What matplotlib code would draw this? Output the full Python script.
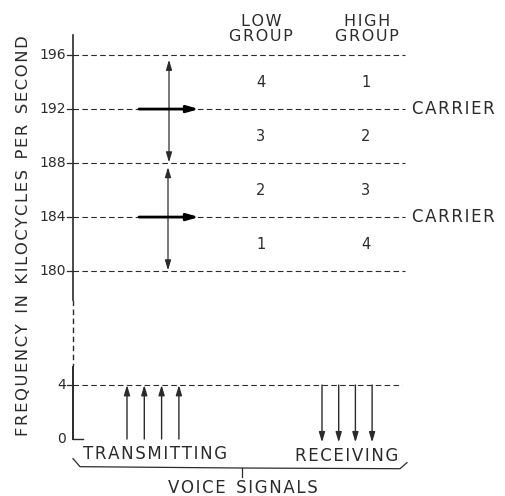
import matplotlib.pyplot as plt

# frequency levels (kc) of the carrier group band
band_edges = [180, 188, 196]
carriers = [184, 192]
band_ticks = [180, 184, 188, 192, 196]
voice_ticks = [0, 4]
voice_top = 4

# channel numbering between the levels, top to bottom
channel_centres = [194, 190, 186, 182]
low_group = ['4', '3', '2', '1']
high_group = ['1', '2', '3', '4']
voice_channels = [1, 2, 3, 4]

INK = '#2b2b2b'
plt.rcParams['font.family'] = ['DejaVu Sans']

# broken scale: the 180-196 band is shifted down next to 0-4
OFFSET = 167.56


def ypos(f):
    return f - OFFSET if f >= 100 else f


def spaced(s):
    # a little extra letter spacing, like the lettering of the original
    return ' '.join('\u200a'.join(w) for w in s.split(' '))


fig = plt.figure(figsize=(5.06, 4.96), dpi=100)
ax = fig.add_axes([0, 0, 1, 1])
ax.set_xlim(0, 506)
ax.set_ylim(-57 / 13.5, 439 / 13.5)
ax.axis('off')

dash = (0, (5, 3))
x_axis = 73

# vertical axis, with a dashed break between the two ranges
ax.plot([x_axis, x_axis], [ypos(197.5), 10.3], color=INK, lw=1.2)
ax.plot([x_axis, x_axis], [10.3, 5.4], color=INK, lw=1.0, ls=(0, (4, 2.5)))
ax.plot([x_axis, x_axis], [5.3, 0], color=INK, lw=1.4)
ax.plot([x_axis, x_axis + 10], [0, 0], color=INK, lw=1.0)

# horizontal dashed levels
for f in band_ticks:
    ax.plot([x_axis - 6, x_axis], [ypos(f), ypos(f)], color=INK, lw=0.9)
    ax.plot([x_axis, 405], [ypos(f), ypos(f)], color=INK, lw=0.8, ls=dash)
    ax.text(x_axis - 7, ypos(f), str(f), ha='right', va='center',
            fontsize=10, color=INK)
ax.plot([x_axis - 6, x_axis], [voice_top, voice_top], color=INK, lw=0.9)
ax.plot([x_axis, 402], [voice_top, voice_top], color=INK, lw=0.8, ls=dash)
for v in voice_ticks:
    ax.text(x_axis - 7, v, str(v), ha='right', va='center',
            fontsize=10, color=INK)

for c in carriers:
    ax.text(412, ypos(c), spaced('CARRIER'), ha='left', va='center',
            fontsize=12, color=INK)

# group headings and channel numbers
ax.text(261, 30.4, spaced('LOW') + '\n' + spaced('GROUP'), ha='center',
        va='center', fontsize=11.5, color=INK, linespacing=1.0)
ax.text(367, 30.4, spaced('HIGH') + '\n' + spaced('GROUP'), ha='center',
        va='center', fontsize=11.5, color=INK, linespacing=1.0)
for yc, lo, hi in zip(channel_centres, low_group, high_group):
    ax.text(261, ypos(yc), lo, ha='center', va='center', fontsize=10.5, color=INK)
    ax.text(366, ypos(yc), hi, ha='center', va='center', fontsize=10.5, color=INK)

# sidebands: double arrows across each band, carrier arrows
thin = dict(arrowstyle='<|-|>,head_length=0.6,head_width=0.18', color=INK,
            lw=0.9, shrinkA=0, shrinkB=0)
ax.annotate('', xy=(169, ypos(band_edges[2]) - 0.35),
            xytext=(169, ypos(band_edges[1]) + 0.05), arrowprops=thin)
ax.annotate('', xy=(168, ypos(band_edges[1]) - 0.3),
            xytext=(168, ypos(band_edges[0]) + 0.05), arrowprops=thin)
bold = dict(arrowstyle='-|>,head_length=0.7,head_width=0.2', color='black',
            lw=2.0, shrinkA=0, shrinkB=0)
for c in carriers:
    ax.annotate('', xy=(199, ypos(c)), xytext=(139, ypos(c)), arrowprops=bold)

# voice signals
small = dict(arrowstyle='-|>,head_length=0.6,head_width=0.18', color=INK,
             lw=1.0, shrinkA=0, shrinkB=0)
for ch in voice_channels:
    xt = 127 + (ch - 1) * 17.3
    ax.annotate('', xy=(xt, voice_top), xytext=(xt, 0), arrowprops=small)
    xr = 322 + (ch - 1) * 16.7
    ax.annotate('', xy=(xr, -0.25), xytext=(xr, voice_top), arrowprops=small)

ax.text(83, -1.1, spaced('TRANSMITTING'), ha='left', va='center', fontsize=12,
        color=INK)
ax.text(398, -1.25, spaced('RECEIVING'), ha='right', va='center', fontsize=12,
        color=INK)

# brace under the voice signals
yb = -2.05
ax.plot([x_axis, 80, 242, 400, 407], [-1.45, yb, yb - 0.1, yb - 0.15, -1.75],
        color=INK, lw=0.9)
ax.plot([242, 242], [yb - 0.1, -2.85], color=INK, lw=0.9)
ax.text(243, -3.6, spaced('VOICE  SIGNALS'), ha='center',
        va='center', fontsize=12, color=INK)

ax.text(24, 15.1, spaced('FREQUENCY  IN  KILOCYCLES  PER  SECOND'),
        rotation=90, ha='center', va='center', fontsize=11.8, color=INK)

fig.savefig('out.png', dpi=100)
